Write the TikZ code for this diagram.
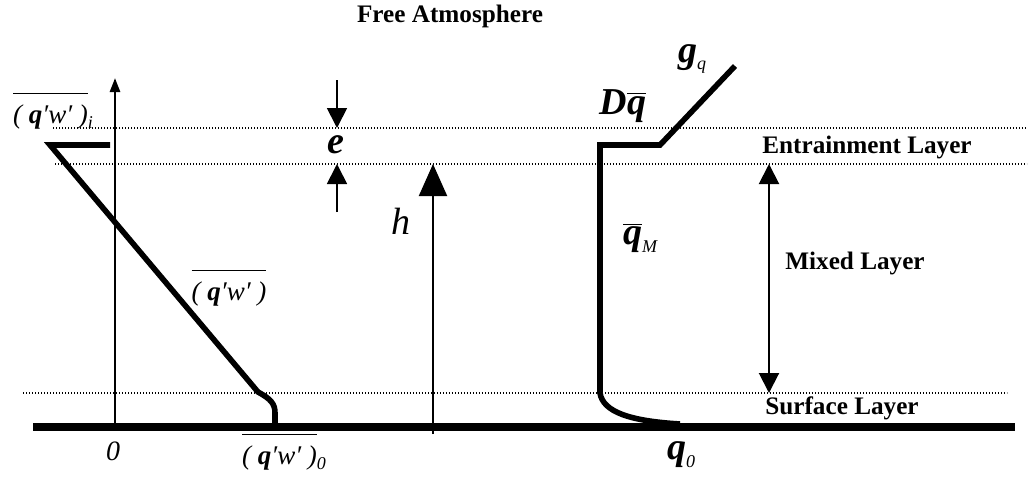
\documentclass[tikz,border=0pt]{standalone}
\usepackage{fontspec}
\setmainfont{Liberation Serif}
\usetikzlibrary{arrows.meta}

\newcommand{\lowsub}[1]{\raisebox{-0.45ex}{\mdseries\itshape\fontsize{9}{10}\selectfont #1}}
\newcommand{\fluxbar}{$\overline{\mbox{\rule{0pt}{1.0em}( \textbf{q}′w′ )}}$}

\begin{document}
\begin{tikzpicture}[x=0.5pt,y=-0.5pt]
\tikzset{
  layerlabel/.style={font=\bfseries\fontsize{12.6}{14}\selectfont,inner sep=0pt},
  mathlabel/.style={font=\bfseries\itshape\fontsize{19}{21}\selectfont,inner sep=0pt},
  fluxlabel/.style={font=\itshape\fontsize{13.5}{15}\selectfont,inner sep=0pt,anchor=base},
  level/.style={line width=0.6pt,dash pattern=on 0.6pt off 0.9pt},
  ground/.style={line width=4pt},
  profile/.style={line width=2.8pt,line join=miter},
  axis/.style={line width=1.3pt,-{Triangle[length=7pt,width=5pt]}},
  thinarrow/.style={line width=0.9pt,-{Triangle[length=10pt,width=10pt]}},
  deptharrow/.style={line width=1pt,-{Triangle[length=16pt,width=14pt]}},
  layerarrow/.style={line width=1pt,{Triangle[length=10pt,width=10pt]}-{Triangle[length=10pt,width=10pt]}}
}
\useasboundingbox (0,0) rectangle (1029,478);

% levels
\coordinate (top_l) at (53,128);
\coordinate (top_r) at (1027,128);
\coordinate (mix_l) at (55,164);
\coordinate (mix_r) at (1027,164);
\coordinate (srf_l) at (23,393);
\coordinate (srf_r) at (1007,393);
\coordinate (gnd_l) at (33,427);
\coordinate (gnd_r) at (1015,427);
\draw[level] (top_l) -- (top_r);
\draw[level] (mix_l) -- (mix_r);
\draw[level] (srf_l) -- (srf_r);
\draw[ground] (gnd_l) -- (gnd_r);

% flux profile
\coordinate (ax_bot) at (115,427);
\coordinate (ax_top) at (115,78);
\draw[axis] (ax_bot) -- (ax_top);
\coordinate (fl_i) at (110,145);
\coordinate (fl_tip) at (50,145);
\coordinate (fl_sl) at (258,392);
\coordinate (fl_0) at (275,424);
\draw[profile] (fl_i) -- (fl_tip) -- (fl_sl)
  .. controls (271,399) and (275,404) .. (275,413) -- (fl_0);

% entrainment and mixed-layer depth
\coordinate (e_top) at (337,80);
\coordinate (e_bot) at (337,212);
\draw[thinarrow] (e_top) -- (top_l -| e_top);
\draw[thinarrow] (e_bot) -- (mix_l -| e_bot);
\coordinate (h_bot) at (433,434);
\draw[deptharrow] (h_bot) -- (mix_l -| h_bot);

% mean profile
\coordinate (q_g) at (735,66);
\coordinate (q_j) at (660,145);
\coordinate (q_c) at (600,145);
\coordinate (q_m) at (600,393);
\coordinate (q_0) at (680,424);
\draw[profile] (q_g) -- (q_j) -- (q_c) -- (q_m)
  .. controls (603,412) and (630,421) .. (q_0);

\coordinate (ml_x) at (769,0);
\draw[layerarrow] (mix_l -| ml_x) -- (srf_l -| ml_x);

% labels
\node[layerlabel] (freeatm) at (450,16) {Free Atmosphere};
\node[layerlabel] (entlabel) at (867,147) {Entrainment Layer};
\node[layerlabel] (mixlabel) at (855,263) {Mixed Layer};
\node[layerlabel] (srflabel) at (842,408) {Surface Layer};
\node[mathlabel] (eps) at (336,145) {e};
\node[font=\itshape\fontsize{19}{21}\selectfont,inner sep=0pt] (hlabel) at (401,221) {h};
\node[mathlabel] (jump) at (623,106) {D$\overline{\mbox{q}}$};
\node[mathlabel] (lapse) at (692,59) {g\lowsub{q}};
\node[mathlabel] (qmix) at (640,238) {$\overline{\mbox{q}}$\lowsub{M}};
\node[mathlabel] (qsurf) at (681,455) {q\lowsub{0}};
\node[fluxlabel,font=\itshape\fontsize{14}{16}\selectfont] (zero) at (113,460) {0};
\node[fluxlabel] (flux_i) at (53,123) {\fluxbar\lowsub{i}};
\node[fluxlabel] (flux_m) at (229,300) {\fluxbar};
\node[fluxlabel] (flux_0) at (284,464) {\fluxbar\lowsub{0}};
\end{tikzpicture}
\end{document}
